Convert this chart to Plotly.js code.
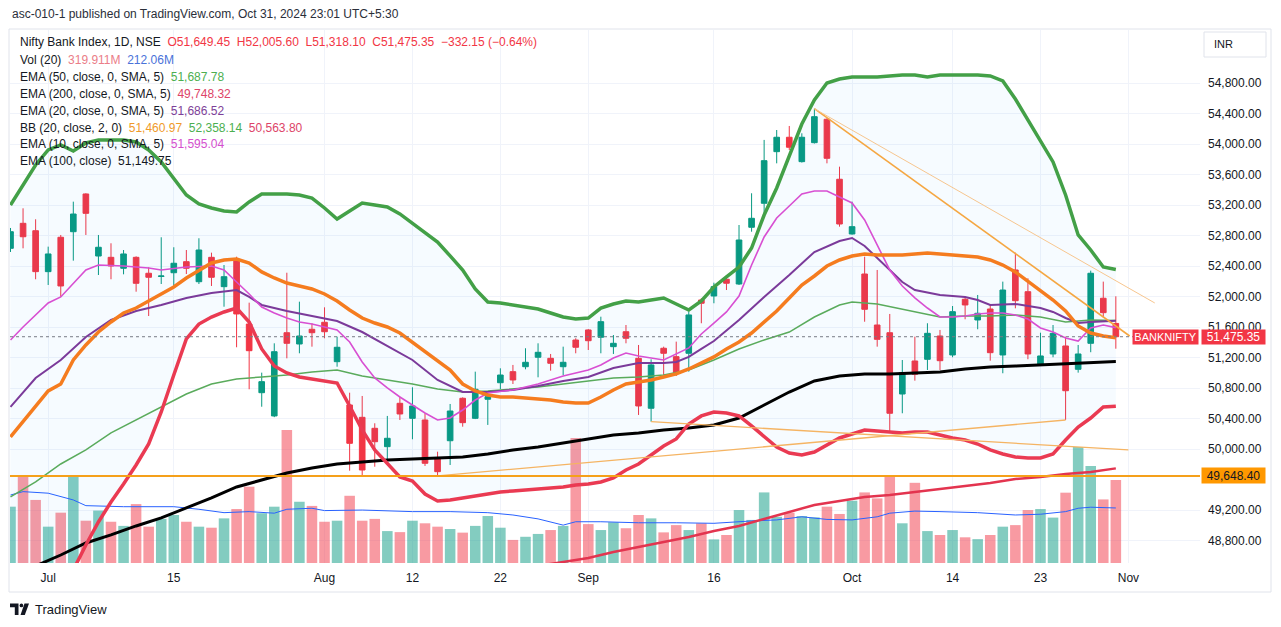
<!DOCTYPE html>
<html><head><meta charset="utf-8">
<script src="https://cdn.plot.ly/plotly-3.0.1.min.js"></script>
<style>html,body{margin:0;padding:0;background:#fff;}#chart{width:1281px;height:627px;}</style>
</head><body><div id="chart"></div>
<script>
// ---------- DATA ----------
const dates = ["2024-06-26","2024-06-27","2024-06-28","2024-07-01","2024-07-02","2024-07-03","2024-07-04","2024-07-05","2024-07-08","2024-07-09",
"2024-07-10","2024-07-11","2024-07-12","2024-07-15","2024-07-16","2024-07-18","2024-07-19","2024-07-22","2024-07-23","2024-07-24",
"2024-07-25","2024-07-26","2024-07-29","2024-07-30","2024-07-31","2024-08-01","2024-08-02","2024-08-05","2024-08-06","2024-08-07",
"2024-08-08","2024-08-09","2024-08-12","2024-08-13","2024-08-14","2024-08-16","2024-08-19","2024-08-20","2024-08-21","2024-08-22",
"2024-08-23","2024-08-26","2024-08-27","2024-08-28","2024-08-29","2024-08-30","2024-09-02","2024-09-03","2024-09-04","2024-09-05",
"2024-09-06","2024-09-09","2024-09-10","2024-09-11","2024-09-12","2024-09-13","2024-09-16","2024-09-17","2024-09-18","2024-09-19",
"2024-09-20","2024-09-23","2024-09-24","2024-09-25","2024-09-26","2024-09-27","2024-09-30","2024-10-01","2024-10-03","2024-10-04",
"2024-10-07","2024-10-08","2024-10-09","2024-10-10","2024-10-11","2024-10-14","2024-10-15","2024-10-16","2024-10-17","2024-10-18",
"2024-10-21","2024-10-22","2024-10-23","2024-10-24","2024-10-25","2024-10-28","2024-10-29","2024-10-30","2024-10-31"];

const open  = [52635,52963,52866,52329,52780,52853,53348,52534,52517,52373,
52517,52308,52266,52315,52460,52197,52517,52132,52491,51642,
50741,50436,51528,51380,51573,51665,51148,50580,50418,50274,
50033,50602,50405,50383,49881,50111,50668,50405,50655,50872,
51017,51082,51206,51192,51082,51432,51564,51468,51345,51541,
51192,50537,51324,51214,51258,51957,52010,52229,52167,52911,
53226,53903,54092,53772,54021,54328,53541,52823,52298,51629,
51528,50724,51157,51179,51485,51236,51967,51695,51839,51236,
52351,52066,51105,51249,51354,51048,51389,51980,51649.45];
const high  = [52902,53160,53016,52657,52810,53247,53357,52810,52701,52613,
52530,52386,52780,52649,52613,52767,52578,52416,52525,51922,
51004,51389,52315,51935,51652,51861,51476,50741,50698,50340,
50436,50689,50812,50471,49967,50593,50680,51017,50734,51061,
51105,51324,51389,51249,51345,51455,51575,51738,51498,51629,
51367,51179,51345,51411,51804,51980,52184,52263,52941,53357,
54057,54187,54240,54144,54467,54341,53706,53247,52525,52351,
51774,51170,51476,51652,51564,51878,52001,52023,51905,52198,
52578,52242,51528,51629,51476,51367,52342,52198,52005.60];
const low   = [52587,52635,52229,52154,51999,52473,52810,52285,52229,52294,
52066,51747,52167,52141,52298,52167,52141,51869,51337,50786,
50557,50420,51192,51258,51345,51455,51082,49718,49648.40,49770,
49868,50383,50130,49780,49655,49793,50295,50395,50318,50786,
50855,51048,50943,51030,50973,51258,51301,51258,51249,51389,
50449,50361,50974,50960,51017,51652,51914,52088,52154,52853,
53050,53750,53925,53760,54010,53750,52919,52815,51672,51345,
50230,50471,50899,51039,51039,51206,51704,51573,51161,50996,
51848,51180,51091,51206,50383,51004,51272,51730,51318.10];
const close = [52853,52787,52329,52561,52141,53085,53094,52649,52403,52561,
52176,52255,52272,52439,52373,52613,52255,52263,51774,51292,
50886,51279,51389,51485,51528,51541,51337,50077,49727,50098,
50143,50462,50567,49815,49705,50501,50348,50786,50689,50973,
50908,51140,51271,51127,51140,51337,51423,51673,51389,51455,
50567,51105,51258,50996,51761,51914,52132,52177,52744,53029,
53785,54092,53961,54092,54362,53816,52954,52919,51835,51441,
50471,51003,50983,51520,51161,51804,51892,51783,51266,52088,
51948,51249,51223,51520,50767,51249,52308,51791,51475.35];
// volume, millions
const volume = [217,333,243,140,194,333,163,202,159,143,
227,140,170,185,159,140,136,172,208,294,
192,217,513,236,220,159,163,259,163,170,
123,119,163,153,140,131,117,143,181,136,
89,101,112,127,143,482,150,127,157,134,
185,172,118,146,127,153,91,108,204,166,
272,178,194,181,176,217,189,240,272,249,
333,153,309,123,108,127,99,92,108,140,
146,204,208,175,271,447,374,245,319.911];
const volMAIdx = [0,1,3,5,6,9,13,15,17,19,21,22,24,25,28,32,35,38,40,42,44,45,47,50,53,56,59,61,63,65,67,69,70,72,74,77,80,82,84,85,86,88];
const volMAVal = [262,275,269,243,221,217,217,207,194,198,192,207,211,202,204,198,198,194,185,170,146,159,159,155,155,153,162,166,178,168,166,178,192,200,198,194,185,188,198,211,215,212.06];

// Bollinger Bands (20, 2)
const bbUpper = [53204,53466,53728,53925,53991,53912,54017,54056,54056,54056,
54030,53925,53768,53558,53335,53217,53164,53125,53112,53243,
53348,53348,53348,53335,53295,53164,53020,53125,53230,53204,
53177,53086,52967,52849,52718,52535,52351,52102,51931,51918,
51892,51866,51839,51787,51734,51708,51721,51852,51905,51944,
51931,51957,51984,51905,51826,51944,52128,52259,52390,52639,
53072,53427,53833,54266,54581,54804,54856,54883,54883,54883,
54896,54909,54909,54883,54909,54909,54909,54909,54896,54830,
54594,54319,54056,53768,53335,52810,52613,52390,52358.14];
const bbBasis = [50160,50357,50567,50764,50855,51170,51367,51538,51669,51787,
51852,51944,52036,52128,52246,52351,52443,52482,52495,52443,
52325,52246,52180,52141,52102,52036,51944,51826,51721,51655,
51603,51524,51406,51288,51170,51039,50855,50764,50711,50685,
50685,50672,50659,50645,50619,50606,50606,50685,50777,50855,
50882,50908,50947,50987,51052,51131,51210,51315,51406,51524,
51669,51813,51984,52154,52272,52403,52482,52534,52561,52548,
52548,52548,52561,52574,52561,52548,52534,52521,52482,52416,
52325,52207,52088,51957,51813,51616,51524,51485,51460.97];
const bbLower = [null,null,null,null,null,48415,48743,49045,49307,49544,
49793,50068,50488,50973,51446,51642,51734,51800,51852,51669,
51315,51092,51000,50947,50921,50895,50868,50567,50252,49990,
49806,49636,49583,49412,49321,49334,49360,49386,49412,49439,
49452,49465,49478,49491,49504,49530,49544,49570,49622,49727,
49806,49924,50042,50134,50331,50436,50488,50475,50436,50305,
50160,50029,49950,49924,49963,50055,50147,50199,50252,50239,
50226,50213,50226,50226,50186,50147,50121,50068,49990,49937,
49898,49885,49885,49937,50121,50291,50409,50554,50563.80];

const ema10Idx = [0,1,3,4,6,7,9,11,12,14,16,17,18,19,20,21,22,23,24,25,26,27,28,29,30,31,32,33,34,35,36,37,38,40,42,44,46,47,48,49,50,52,54,55,56,57,58,59,60,61,62,63,64,65,66,67,68,69,70,71,72,73,74,75,76,77,78,79,80,81,82,83,84,85,86,87,88];
const ema10Val = [51432,51603,51918,51997,52351,52416,52403,52377,52351,52390,52403,52351,52193,52036,51865,51787,51721,51669,51642,51603,51564,51406,51144,50934,50803,50685,50580,50475,50383,50409,50514,50645,50737,50777,50855,50960,51039,51104,51196,51262,51223,51170,51328,51511,51655,51800,52010,52416,52784,53033,53190,53348,53387,53387,53308,53230,53007,52679,52351,52141,51984,51852,51734,51734,51747,51773,51787,51787,51760,51708,51590,51537,51459,51419,51590,51629,51595.04];
const ema20Idx = [0,2,4,6,8,10,12,14,16,18,19,20,22,24,26,28,30,32,34,36,38,40,42,44,46,48,50,52,53,54,55,56,58,60,62,64,66,67,68,69,70,71,72,74,76,77,78,80,82,83,84,85,86,88];
const ema20Val = [50554,50934,51170,51472,51695,51813,51892,51984,52049,52088,51997,51892,51813,51747,51682,51537,51354,51170,50908,50750,50750,50777,50829,50895,50947,51065,51131,51131,51144,51210,51315,51419,51695,51997,52285,52587,52731,52771,52666,52508,52351,52193,52088,52023,51997,51957,51892,51905,51852,51800,51721,51655,51669,51686.52];
const ema50Idx = [0,2,4,6,8,10,12,14,16,18,20,22,24,26,28,30,32,34,36,38,40,42,44,46,48,50,52,54,56,58,60,62,64,66,67,69,71,74,76,78,80,82,84,86,88];
const ema50Val = [49373,49570,49806,49990,50213,50383,50554,50724,50855,50921,50947,50973,51013,51039,50960,50908,50855,50790,50750,50764,50790,50816,50855,50895,50934,50947,50973,51039,51170,51315,51433,51537,51734,51892,51931,51905,51839,51734,51747,51747,51760,51734,51669,51695,51687.78];
const ema100Idx = [2,4,6,8,10,12,14,16,18,20,22,24,26,28,30,32,34,36,38,40,42,44,46,48,50,52,54,56,58,60,62,64,66,68,70,72,74,76,78,80,82,84,86,88];
const ema100Val = [48468,48612,48770,48875,48993,49098,49229,49360,49504,49596,49688,49753,49806,49832,49858,49871,49885,49898,49937,49990,50029,50081,50134,50186,50213,50252,50278,50318,50409,50580,50750,50895,50960,50987,50987,51000,51013,51052,51078,51091,51105,51118,51131,51149.75];
const ema200Idx = [42,44,46,48,50,52,54,56,58,60,62,64,66,68,70,72,74,76,78,80,82,84,86,88];
const ema200Val = [48468,48520,48573,48652,48717,48783,48848,48927,48993,49085,49176,49268,49321,49373,49399,49439,49478,49517,49557,49609,49636,49675,49701,49748.32];

// drawings: trend lines (bar index, price) and a horizontal level
const trendFromBar   = [64, 64, 51, 34];
const trendFromPrice = [54467, 54467, 50361, 49650];
const trendToBar     = [89.1, 91.1, 89.0, 84];
const trendToPrice   = [51485, 51918, 49990, 50383];
const levelPrice = 49648.40;

// axis labels
const tickDates = ["2024-07-01","2024-07-15","2024-08-01","2024-08-12","2024-08-22","2024-09-02","2024-09-16","2024-10-01","2024-10-14","2024-10-23"];
const tickText  = ["Jul","15","Aug","12","22","Sep","16","Oct","14","23"];
const nextSessionLabel = "Nov";
const priceTicks = [48800,49200,50000,50400,50800,51200,51600,52000,52400,52800,53200,53600,54000,54400,54800];

// ---------- BUILD ----------
const xi = dates.map((d,i)=>i);
const isUp = close.map((c,i)=>c>=open[i]);
const FONT = 'Liberation Sans, Arial, sans-serif';
const DARK = '#131722';

const L=10, T=30, W=1190, H=533;
const px = x => (x-L)/W;
const py = y => (T+H-y)/H;

function line(x, y, color, width, axis){
  return {type:'scatter', mode:'lines', x:x, y:y, connectgaps:true,
    line:{color:color, width:width}, yaxis:axis||'y2', hoverinfo:'skip'};
}

// BB fill polygon (upper forward, lower backward)
const lowIdx = xi.filter(i=>bbLower[i]!==null);
const fillX = xi.concat(lowIdx.slice().reverse(), [0]);
const fillY = bbUpper.concat(lowIdx.slice().reverse().map(i=>bbLower[i]), [bbLower[lowIdx[0]]]);

const traces = [
  {type:'bar', x:xi, y:volume, width:0.84, yaxis:'y', hoverinfo:'skip',
   marker:{color:isUp.map(u=>u?'rgba(8,153,129,0.5)':'rgba(242,54,69,0.5)'), line:{width:0}}},
  line(volMAIdx, volMAVal, '#2962ff', 1, 'y'),
  {type:'scatter', mode:'lines', x:fillX, y:fillY, fill:'toself', fillcolor:'rgba(33,150,243,0.04)',
   line:{width:0, color:'rgba(0,0,0,0)'}, yaxis:'y2', hoverinfo:'skip'},
  {type:'candlestick', x:xi, open:open, high:high, low:low, close:close, yaxis:'y2', whiskerwidth:0, hoverinfo:'skip',
   increasing:{line:{color:'#089981', width:1}, fillcolor:'#089981'},
   decreasing:{line:{color:'#f23645', width:1}, fillcolor:'#f23645'}},
  line(ema200Idx, ema200Val, '#e3344f', 2.5),
  line(ema100Idx, ema100Val, '#000000', 3),
  line(ema50Idx, ema50Val, '#5aab5c', 1.5),
  line(ema20Idx, ema20Val, '#7b3a9a', 2),
  line(ema10Idx, ema10Val, '#d84fd2', 1.6),
  line(xi, bbBasis, '#f57c1f', 3.5),
  line(xi, bbUpper, '#43a047', 3.5),
  line(xi, bbLower, '#ea3a52', 3.5)
];
const trendColors = ['#f5a742','#f7c68f','#f5b463','#f5b463'];
const trendWidths = [1.6, 1, 1.3, 1.3];
trendFromBar.forEach((b,k)=>{
  traces.push(line([b, trendToBar[k]], [trendFromPrice[k], trendToPrice[k]], trendColors[k], trendWidths[k]));
});

const tickIdx = tickDates.map(d=>dates.indexOf(d)).concat([dates.length]);
const tickLbl = tickText.concat([nextSessionLabel]);

function ann(x, y, text, opts){
  return Object.assign({xref:'paper', yref:'paper', x:px(x), y:py(y), text:text, showarrow:false,
    xanchor:'left', yanchor:'middle', font:{family:FONT, size:12, color:DARK}}, opts||{});
}
const sp = (c,t)=>'<span style="color:'+c+'">'+t+'</span>';
const G = '\u00a0 ';
const legendLines = [
  'Nifty Bank Index, 1D, NSE'+G+sp('#f23645','O51,649.45'+G+'H52,005.60'+G+'L51,318.10'+G+'C51,475.35'+G+'\u2212332.15 (\u22120.64%)'),
  'Vol (20)'+G+sp('#eb7d88','319.911M')+G+sp('#4a72d9','212.06M'),
  'EMA (50, close, 0, SMA, 5)'+G+sp('#4caf50','51,687.78'),
  'EMA (200, close, 0, SMA, 5)'+G+sp('#dd4468','49,748.32'),
  'EMA (20, close, 0, SMA, 5)'+G+sp('#7e3f98','51,686.52'),
  'BB (20, close, 2, 0)'+G+sp('#f09a2a','51,460.97')+G+sp('#4caf50','52,358.14')+G+sp('#dd4468','50,563.80'),
  'EMA (10, close, 0, SMA, 5)'+G+sp('#d54fce','51,595.04'),
  'EMA (100, close)'+G+'51,149.75'
];
const legendY = [42, 59.5, 76.5, 93.5, 110.5, 127.5, 144.5, 161.5];

const lastClose = close[close.length-1];
const annotations = [
  ann(10, 14, 'asc-010-1 published on TradingView.com, Oct 31, 2024 23:01 UTC+5:30', {font:{family:FONT,size:12,color:'#2a2e39'}}),
  ann(33, 609, 'TradingView', {font:{family:FONT,size:13,color:DARK}}),
  ann(1212, 44.5, 'INR', {font:{family:FONT,size:11,color:DARK}}),
  {xref:'paper', yref:'y2', x:px(1165.5), y:lastClose, text:'BANKNIFTY', showarrow:false,
   xanchor:'center', yanchor:'middle', bgcolor:'#f23645', width:63, height:12, borderpad:1,
   font:{family:FONT, size:11, color:'#ffffff'}},
  {xref:'paper', yref:'y2', x:px(1233.5), y:lastClose, text:'51,475.35', showarrow:false,
   xanchor:'center', yanchor:'middle', bgcolor:'#f23645', width:61, height:12, borderpad:1,
   font:{family:FONT, size:12, color:'#ffffff'}},
  {xref:'paper', yref:'y2', x:px(1233.5), y:levelPrice, text:'49,648.40', showarrow:false,
   xanchor:'center', yanchor:'middle', bgcolor:'#ff9800', width:61, height:13, borderpad:1,
   font:{family:FONT, size:12, color:DARK}}
];
legendLines.forEach((t,k)=>annotations.push(ann(18, legendY[k], t)));

const shapes = [
  {type:'rect', xref:'paper', yref:'paper', x0:px(9), x1:px(1271), y0:py(29), y1:py(592), line:{color:'#e0e3eb', width:1}, layer:'below'},
  {type:'rect', xref:'paper', yref:'paper', x0:px(1204), x1:px(1266), y0:py(32), y1:py(57), line:{color:'#e0e3eb', width:1}, fillcolor:'#ffffff'},
  {type:'line', xref:'paper', yref:'y2', x0:0, x1:px(1133), y0:lastClose, y1:lastClose, line:{color:'#787b86', width:1, dash:'dot'}},
  {type:'line', xref:'paper', yref:'y2', x0:0, x1:1, y0:levelPrice, y1:levelPrice, line:{color:'#f5a01a', width:2}},
  // TradingView logo
  {type:'path', xref:'paper', yref:'paper', fillcolor:DARK, line:{width:0},
   path:'M'+px(10)+','+py(603.5)+' L'+px(18.5)+','+py(603.5)+' L'+px(18.5)+','+py(615)+' L'+px(14.8)+','+py(615)+' L'+px(14.8)+','+py(607.3)+' L'+px(10)+','+py(607.3)+' Z'},
  {type:'circle', xref:'paper', yref:'paper', fillcolor:DARK, line:{width:0}, x0:px(19.6), x1:px(23.2), y0:py(603.5), y1:py(607.3)},
  {type:'path', xref:'paper', yref:'paper', fillcolor:DARK, line:{width:0},
   path:'M'+px(24.5)+','+py(603.5)+' L'+px(29)+','+py(603.5)+' L'+px(24.8)+','+py(615)+' L'+px(20.5)+','+py(615)+' Z'}
];

const layout = {
  width:1281, height:627, margin:{l:L, r:1281-L-W, t:T, b:627-T-H, pad:0},
  paper_bgcolor:'#ffffff', plot_bgcolor:'#ffffff', showlegend:false, hovermode:false,
  boxgap:0.36,
  xaxis:{range:[-0.04, 94.7], tickmode:'array', tickvals:tickIdx, ticktext:tickLbl, showgrid:true,
    gridcolor:'#f0f3fa', zeroline:false, showline:false, ticks:'', ticklabelstandoff:6,
    tickfont:{family:FONT, size:12, color:DARK}, rangeslider:{visible:false}, fixedrange:true},
  yaxis:{range:[0, 2054], visible:false, fixedrange:true, showgrid:false, zeroline:false},
  yaxis2:{overlaying:'y', side:'right', anchor:'x', range:[48507, 55499], tickmode:'array', tickvals:priceTicks,
    tickformat:',.2f', showgrid:true, gridcolor:'#f0f3fa', zeroline:false, showline:false, ticks:'',
    ticklabelstandoff:7, tickfont:{family:FONT, size:12, color:DARK}, fixedrange:true},
  annotations:annotations, shapes:shapes
};

Plotly.newPlot('chart', traces, layout, {displayModeBar:false, staticPlot:true});
</script>
</body></html>
